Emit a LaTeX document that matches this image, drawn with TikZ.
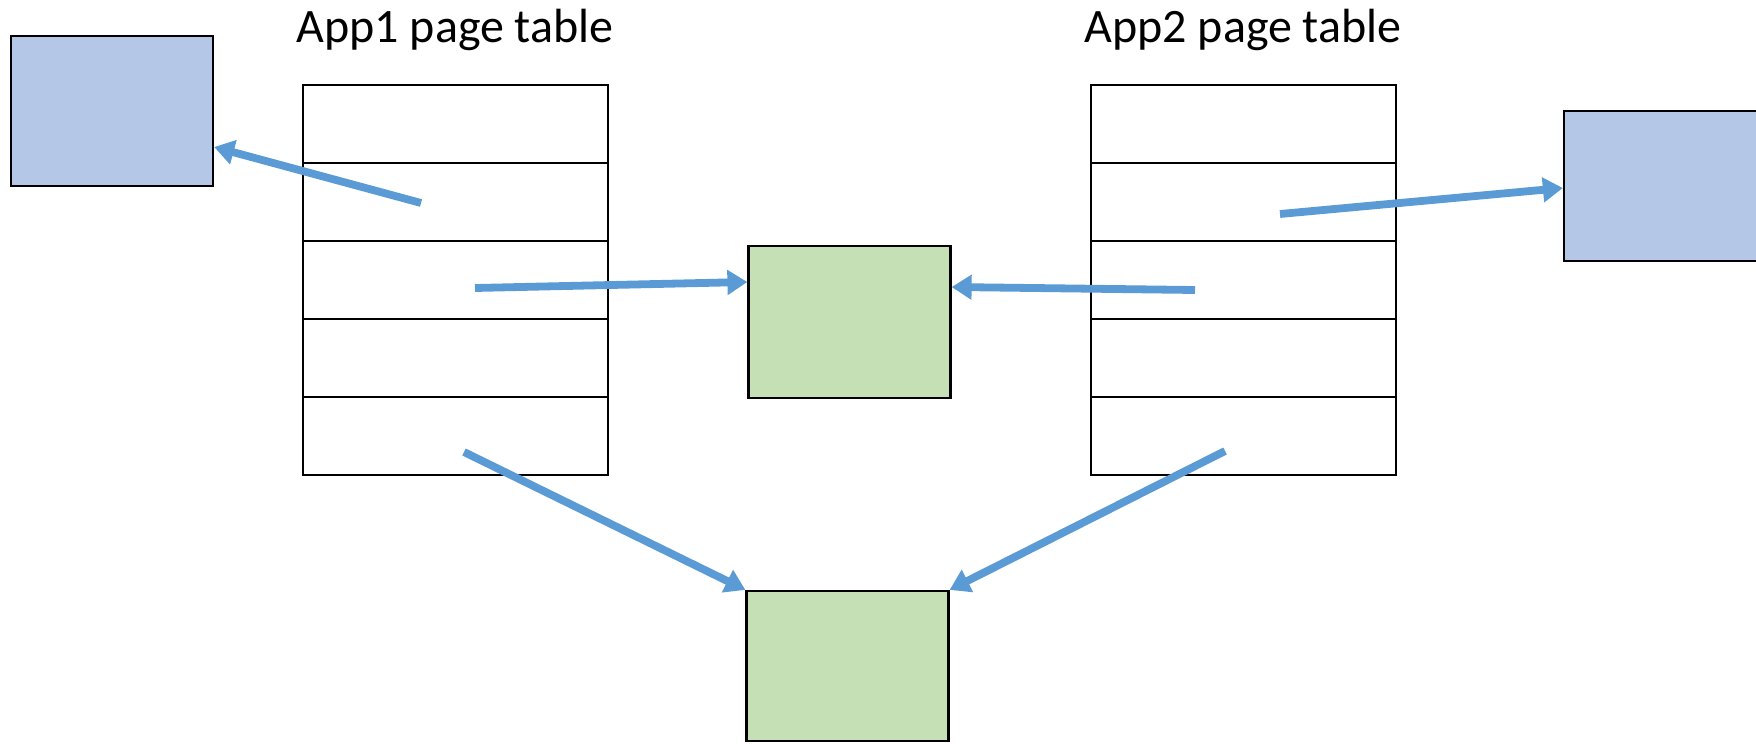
\documentclass[tikz,border=0pt]{standalone}
\usepackage{fontspec}
\setmainfont{Carlito}
\usepackage{xcolor}
\usetikzlibrary{arrows.meta}
\usetikzlibrary{calc}

\definecolor{ptrblue}{HTML}{5B9BD5}
\definecolor{frameblue}{HTML}{B4C7E7}
\definecolor{framegreen}{HTML}{C5E0B4}

\begin{document}
\begin{tikzpicture}[x=0.5pt,y=-0.5pt,
    entry/.style={draw, line width=0.9pt, minimum width=152.5pt, minimum height=39pt, inner sep=0pt},
    frame/.style={draw, line width=1.1pt, minimum width=101pt, minimum height=75pt, inner sep=0pt},
    ptr/.style={draw=ptrblue, line width=3.9pt, -{Triangle[length=10pt,width=12pt]}},
    title/.style={font=\fontsize{24}{29}\selectfont, anchor=base}]
    \useasboundingbox (0,0) rectangle (1756,744);

    % Titles of the two page tables
    \node[title] (t1) at (455,42) {App1 page table};
    \node[title] (t2) at (1243,42) {App2 page table};

    % The two page tables, five entries each
    \foreach \i in {1,...,5} {
      \node[entry] (a\i) at (455.5,{46+78*\i}) {};
      \node[entry] (b\i) at (1243.5,{46+78*\i}) {};
    }

    % Physical frames
    \node[frame, fill=frameblue] (priv1) at (112,111) {};
    \node[frame, fill=frameblue] (priv2) at (1665,186) {};
    \node[frame, fill=framegreen, minimum height=76pt] (shared1) at (849.5,322) {};
    \node[frame, fill=framegreen] (shared2) at (847.5,666) {};

    % Where the pointers start inside the entries
    \coordinate (s1) at (421,203);
    \coordinate (s2) at (475,288);
    \coordinate (s3) at (1195,290);
    \coordinate (s4) at (1280,214);
    \coordinate (s5) at (464,452);
    \coordinate (s6) at (1225,451);

    % Pointers from entries to frames
    \draw[ptr] (s1) -- ([yshift=-18pt]priv1.east);
    \draw[ptr] (s2) -- ([yshift=20pt]shared1.west);
    \draw[ptr] (s3) -- ([yshift=17.5pt]shared1.east);
    \draw[ptr] (s4) -- ([yshift=-1pt]priv2.west);
    \draw[ptr] (s5) -- (shared2.north west);
    \draw[ptr] (s6) -- (shared2.north east);
\end{tikzpicture}
\end{document}
